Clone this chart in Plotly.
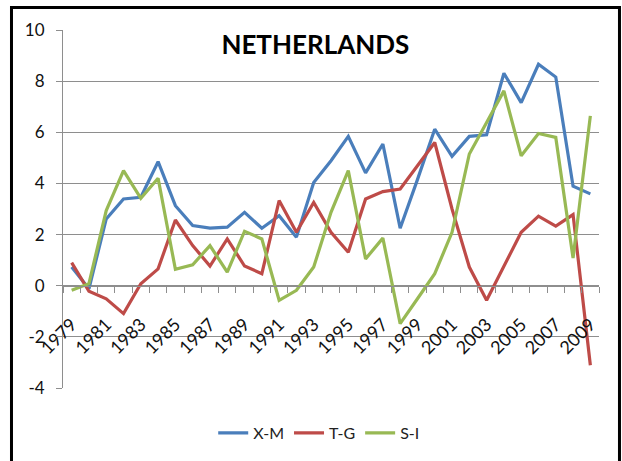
import plotly.graph_objects as go

# Netherlands: balances as % of GDP, 1979-2009
years = list(range(1979, 2010))
x_m = [0.73, -0.12, 2.61, 3.39, 3.46, 4.85, 3.13, 2.35, 2.25, 2.29, 2.87,
       2.25, 2.74, 1.90, 4.04, 4.89, 5.84, 4.41, 5.54, 2.25, 4.15,
       6.12, 5.06, 5.84, 5.90, 8.31, 7.16, 8.66, 8.16, 3.89, 3.59]
t_g = [0.90, -0.22, -0.51, -1.09, 0.08, 0.66, 2.57, 1.57, 0.77, 1.83, 0.77,
       0.47, 3.33, 2.09, 3.26, 2.09, 1.31, 3.39, 3.68, 3.78, 4.69,
       5.60, 3.00, 0.73, -0.57, 0.73, 2.09, 2.72, 2.33, 2.78, -3.11]
s_i = [-0.18, 0.08, 2.94, 4.50, 3.42, 4.20, 0.64, 0.82, 1.57, 0.53, 2.13,
       1.83, -0.57, -0.18, 0.73, 2.87, 4.50, 1.05, 1.86, -1.48, -0.51,
       0.47, 2.09, 5.15, 6.38, 7.62, 5.08, 5.95, 5.80, 1.08, 6.64]

series_names = ["X-M", "T-G", "S-I"]
series_colors = ["#4A7EBB", "#BE4B48", "#98B954"]
label_years = years[::2]
y_ticks = [-4, -2, 0, 2, 4, 6, 8, 10]

FONT = "Lato, sans-serif"
GRID = "#8E8E8E"

fig = go.Figure()
for name, vals, col in zip(series_names, [x_m, t_g, s_i], series_colors):
    fig.add_trace(go.Scatter(x=years, y=vals, mode="lines", name=name,
                             line=dict(color=col, width=3.2)))

# invisible helper trace so the tick-mark axis is drawn
fig.add_trace(go.Scatter(x=[years[0]], y=[0], xaxis="x2", mode="markers",
                         marker=dict(opacity=0), showlegend=False,
                         hoverinfo="skip"))

y_min, y_max = -4, 10
zero_pos = (0 - y_min) / (y_max - y_min)
boundaries = [y - 0.5 for y in years] + [years[-1] + 0.5]

fig.update_layout(
    width=622, height=461,
    margin=dict(l=63, r=23, t=30, b=72, pad=0),
    paper_bgcolor="white", plot_bgcolor="white",
    font=dict(family=FONT, size=16, color="#222"),
    title=dict(text="<b>NETHERLANDS</b>", x=0.507, xref="container",
               xanchor="center", y=1 - 45 / 461, yanchor="middle",
               font=dict(family=FONT, size=26, color="black")),
    showlegend=True,
    legend=dict(orientation="h", x=0.478, xanchor="center",
                y=-0.1226, yanchor="middle",
                font=dict(family=FONT, size=16, color="#222"),
                bgcolor="rgba(0,0,0,0)"),
    xaxis=dict(
        range=[1978.5, 2009.5], showgrid=False, zeroline=False,
        anchor="free", position=zero_pos,
        showline=True, linecolor=GRID, linewidth=1.3,
        tickmode="array", tickvals=label_years,
        ticktext=[str(y) for y in label_years],
        ticks="", tickangle=-45, ticklabelstandoff=20,
        tickfont=dict(family=FONT, size=18, color="#111"),
        automargin=False,
    ),
    xaxis2=dict(
        range=[1978.5, 2009.5], overlaying="x", showgrid=False,
        zeroline=False, anchor="free", position=zero_pos,
        showline=False, tickmode="array", tickvals=boundaries,
        ticks="outside", ticklen=6, tickcolor=GRID, tickwidth=1,
        showticklabels=False, automargin=False,
    ),
    yaxis=dict(
        range=[y_min, y_max], tickmode="array", tickvals=y_ticks,
        ticktext=[str(v) for v in y_ticks],
        showgrid=True, gridcolor=GRID, gridwidth=1, zeroline=False,
        showline=True, linecolor=GRID, linewidth=1,
        ticks="outside", ticklen=6, tickcolor=GRID,
        ticklabelstandoff=8,
        tickfont=dict(family=FONT, size=17, color="#111"),
        automargin=False,
    ),
)

# outer chart frame
fig.add_shape(type="rect", xref="paper", yref="paper",
              x0=-0.0961, x1=1.0382, y0=-0.23, y1=1.0627,
              line=dict(color="black", width=3), fillcolor="rgba(0,0,0,0)",
              layer="above")

fig.write_html("out.html")
